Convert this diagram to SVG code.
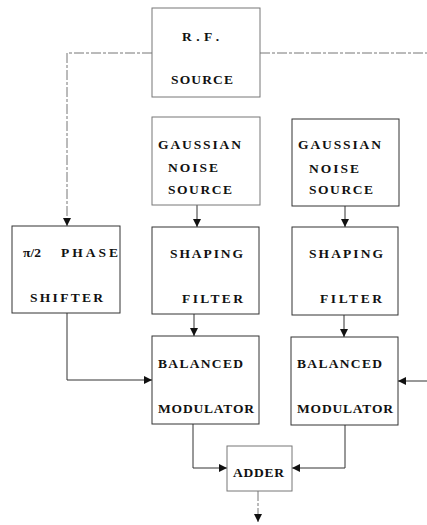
<svg xmlns="http://www.w3.org/2000/svg" width="427" height="525" viewBox="0 0 427 525">
<defs>
<style>
.box{fill:none;stroke:#333;stroke-width:1}
.faint{stroke:#777}
.t{font-family:"Liberation Serif","DejaVu Serif",serif;font-weight:bold;font-size:13.5px;fill:#111}
.c{fill:none;stroke:#333;stroke-width:1}
.cf{fill:none;stroke:#777;stroke-width:1;stroke-dasharray:10 2 3 2}
</style>
<marker id="ah" viewBox="0 0 8 8" refX="8" refY="4" markerWidth="8" markerHeight="8" markerUnits="userSpaceOnUse" orient="auto">
<path d="M0,0 L8,4 L0,8 z" fill="#111"/>
</marker>
</defs>
<rect width="427" height="525" fill="#fff"/>
<g id="connectors">
<path class="cf" d="M152,53 H67 V226" marker-end="url(#ah)"/>
<path class="cf" d="M260,53 H427"/>
<path class="c" d="M197,205 V227" marker-end="url(#ah)"/>
<path class="c" d="M345,206 V227" marker-end="url(#ah)"/>
<path class="c" d="M194,314 V336" marker-end="url(#ah)"/>
<path class="c" d="M344,315 V337" marker-end="url(#ah)"/>
<path class="c" d="M67,313 V380 H152" marker-end="url(#ah)"/>
<path class="c" d="M427,381 H398" marker-end="url(#ah)"/>
<path class="c" d="M193,424 V468 H227" marker-end="url(#ah)"/>
<path class="c" d="M345,425 V468 H292" marker-end="url(#ah)"/>
<path class="cf" d="M258,491 V522" marker-end="url(#ah)"/>
</g>
<g id="rf-source">
<rect class="box faint" x="152" y="8" width="108" height="89"/>
<text class="t" x="182" y="41" textLength="37" lengthAdjust="spacing">R.F.</text>
<text class="t" x="171" y="84" textLength="62" lengthAdjust="spacing">SOURCE</text>
</g>
<g id="noise-source-1">
<rect class="box faint" x="152" y="117" width="108" height="88"/>
<text class="t" x="158" y="149" textLength="83" lengthAdjust="spacing">GAUSSIAN</text>
<text class="t" x="168" y="172" textLength="50" lengthAdjust="spacing">NOISE</text>
<text class="t" x="168" y="194" textLength="64" lengthAdjust="spacing">SOURCE</text>
</g>
<g id="noise-source-2">
<rect class="box" x="292" y="119" width="107" height="87"/>
<text class="t" x="298" y="149" textLength="83" lengthAdjust="spacing">GAUSSIAN</text>
<text class="t" x="309" y="173" textLength="50" lengthAdjust="spacing">NOISE</text>
<text class="t" x="309" y="194" textLength="64" lengthAdjust="spacing">SOURCE</text>
</g>
<g id="phase-shifter">
<rect class="box" x="12" y="226" width="108" height="87"/>
<text class="t" x="23" y="257" font-size="15">π/2</text>
<text class="t" x="61" y="257" textLength="57" lengthAdjust="spacing">PHASE</text>
<text class="t" x="30" y="302" textLength="73" lengthAdjust="spacing">SHIFTER</text>
</g>
<g id="shaping-filter-1">
<rect class="box" x="152" y="227" width="107" height="87"/>
<text class="t" x="170" y="258" textLength="73" lengthAdjust="spacing">SHAPING</text>
<text class="t" x="182" y="303" textLength="61" lengthAdjust="spacing">FILTER</text>
</g>
<g id="shaping-filter-2">
<rect class="box" x="292" y="227" width="106" height="88"/>
<text class="t" x="309" y="258" textLength="74" lengthAdjust="spacing">SHAPING</text>
<text class="t" x="320" y="303" textLength="62" lengthAdjust="spacing">FILTER</text>
</g>
<g id="balanced-modulator-1">
<rect class="box" x="152" y="336" width="107" height="88"/>
<text class="t" x="158" y="368" textLength="85" lengthAdjust="spacing">BALANCED</text>
<text class="t" x="158" y="413" textLength="96" lengthAdjust="spacing">MODULATOR</text>
</g>
<g id="balanced-modulator-2">
<rect class="box" x="291" y="337" width="107" height="88"/>
<text class="t" x="297" y="368" textLength="85" lengthAdjust="spacing">BALANCED</text>
<text class="t" x="297" y="413" textLength="96" lengthAdjust="spacing">MODULATOR</text>
</g>
<g id="adder">
<rect class="box faint" x="227" y="446" width="65" height="45"/>
<text class="t" x="233" y="477" textLength="51" lengthAdjust="spacing">ADDER</text>
</g>
</svg>
